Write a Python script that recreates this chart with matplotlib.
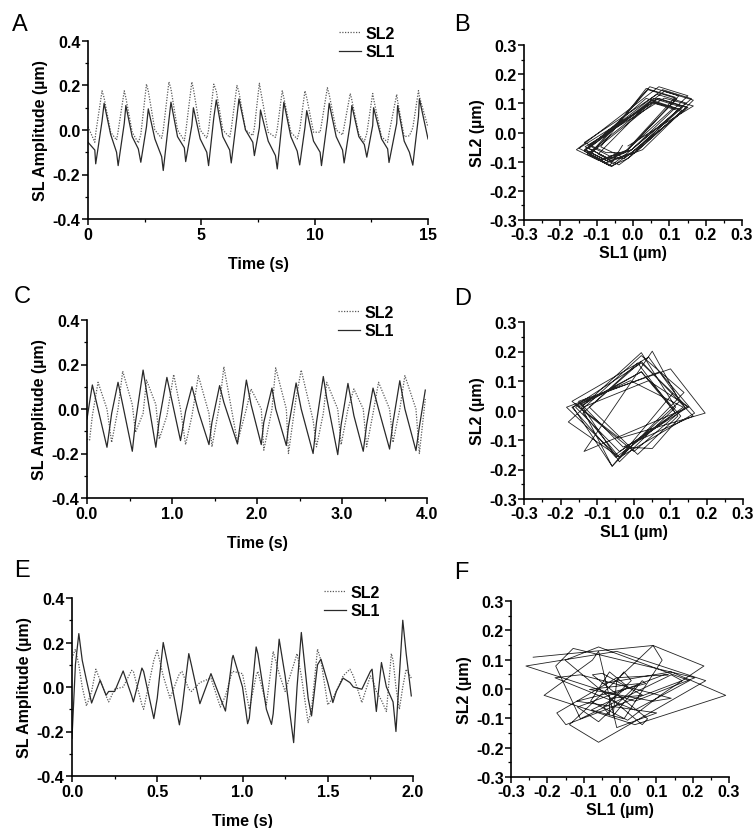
import numpy as np
import matplotlib.pyplot as plt
from matplotlib.ticker import MultipleLocator, FormatStrFormatter

plt.rcParams['font.family'] = ['Liberation Sans', 'DejaVu Sans']
plt.rcParams['font.weight'] = 'bold'
plt.rcParams['font.size'] = 11.5

# ---- panel A / B : 15 s recording ----
a_time = [0.00, 0.30, 0.34, 0.62, 0.71, 1.00, 1.26, 1.33, 1.60, 1.67, 1.95,
          2.22, 2.33, 2.58, 2.66, 2.95, 3.25, 3.32, 3.57, 3.66, 3.95,
          4.25, 4.31, 4.58, 4.65, 4.95, 5.24, 5.32, 5.55, 5.66, 5.95,
          6.25, 6.32, 6.57, 6.66, 6.95, 7.27, 7.34, 7.56, 7.61, 7.95,
          8.27, 8.35, 8.57, 8.64, 8.95, 9.23, 9.34, 9.57, 9.65, 9.95,
          10.24, 10.30, 10.56, 10.64, 10.95, 11.23, 11.30, 11.57, 11.64, 11.95,
          12.19, 12.30, 12.56, 12.60, 12.95, 13.22, 13.28, 13.62, 13.66, 13.95,
          14.18, 14.33, 14.58, 14.62, 15.00]
a_sl1 = [-0.055, -0.09, -0.152, 0.04, 0.12, -0.02, -0.10, -0.16, 0.03, 0.11, -0.03,
         -0.085, -0.145, 0.015, 0.095, -0.04, -0.12, -0.182, 0.045, 0.125, -0.03,
         -0.08, -0.142, 0.02, 0.10, -0.04, -0.10, -0.16, 0.055, 0.135, -0.03,
         -0.09, -0.148, 0.06, 0.14, 0.00, -0.055, -0.115, 0.01, 0.09, -0.05,
         -0.115, -0.175, 0.045, 0.125, -0.03, -0.095, -0.157, 0.01, 0.087, -0.05,
         -0.10, -0.16, 0.04, 0.12, -0.03, -0.09, -0.148, 0.03, 0.11, -0.03,
         -0.065, -0.122, 0.02, 0.10, -0.04, -0.085, -0.146, 0.03, 0.11, -0.05,
         -0.10, -0.158, 0.06, 0.14, -0.04]
a_sl2 = [0.015, -0.055, -0.015, 0.176, 0.145, -0.01, -0.045, -0.005, 0.176, 0.145, -0.01,
         -0.058, -0.02, 0.206, 0.175, 0.0, -0.037, 0.0, 0.216, 0.185, 0.0,
         -0.048, -0.01, 0.216, 0.185, 0.0, -0.037, 0.0, 0.206, 0.175, 0.0,
         -0.033, 0.005, 0.20, 0.17, 0.0, -0.025, 0.01, 0.21, 0.18, -0.01,
         -0.033, 0.005, 0.176, 0.145, -0.01, -0.04, 0.0, 0.176, 0.145, -0.01,
         -0.01, 0.025, 0.19, 0.16, 0.0, -0.022, 0.015, 0.164, 0.135, -0.02,
         -0.052, -0.015, 0.164, 0.14, -0.03, -0.055, -0.015, 0.16, 0.13, -0.03,
         -0.026, 0.01, 0.177, 0.15, 0.013]

# ---- panel C / D : 4 s recording ----
c_time = [0.00, 0.03, 0.063, 0.13, 0.235, 0.29, 0.365, 0.42, 0.533, 0.57,
          0.66, 0.70, 0.81, 0.85, 0.94, 1.02, 1.10, 1.16, 1.235, 1.31,
          1.435, 1.47, 1.56, 1.61, 1.77, 1.875, 1.93, 2.05, 2.08, 2.176,
          2.22, 2.345, 2.37, 2.46, 2.52, 2.66, 2.70, 2.78, 2.82, 2.95,
          2.99, 3.07, 3.14, 3.25, 3.29, 3.365, 3.43, 3.56, 3.60, 3.68,
          3.74, 3.87, 3.91, 3.98]
c_sl1 = [-0.045, 0.03, 0.108, 0.0, -0.172, -0.02, 0.12, 0.02, -0.19, -0.06,
         0.175, 0.08, -0.172, -0.05, 0.142, 0.0, -0.142, -0.01, 0.10, -0.01,
         -0.16, -0.06, 0.105, 0.03, -0.157, 0.13, 0.02, -0.16, -0.06, 0.094,
         0.0, -0.164, -0.08, 0.117, 0.0, -0.20, -0.06, 0.146, 0.05, -0.205,
         -0.07, 0.115, -0.03, -0.19, -0.07, 0.094, 0.0, -0.18, -0.06, 0.127,
         0.0, -0.187, -0.08, 0.085]
c_sl2 = [-0.135, -0.14, -0.03, 0.12, 0.0, -0.15, 0.0, 0.17, 0.02, -0.105,
         -0.02, 0.13, 0.02, -0.135, -0.03, 0.155, 0.0, -0.16, -0.03, 0.15,
         -0.02, -0.17, 0.02, 0.19, -0.15, 0.0, 0.09, 0.0, -0.185, 0.0,
         0.185, 0.0, -0.20, 0.05, 0.175, -0.05, -0.17, -0.02, 0.12, 0.0,
         -0.16, 0.0, 0.09, 0.0, -0.17, -0.02, 0.12, 0.0, -0.15, 0.0,
         0.15, 0.0, -0.20, 0.045]

# ---- panel E / F : 2 s recording ----
e_time = [0.00, 0.02, 0.04, 0.06, 0.085, 0.115, 0.14, 0.165, 0.20, 0.215,
          0.25, 0.30, 0.35, 0.36, 0.41, 0.42, 0.48, 0.50, 0.535, 0.575,
          0.63, 0.645, 0.685, 0.70, 0.75, 0.815, 0.87, 0.90, 0.94, 0.945,
          1.00, 1.03, 1.04, 1.08, 1.09, 1.14, 1.17, 1.18, 1.215, 1.25,
          1.30, 1.32, 1.345, 1.385, 1.405, 1.44, 1.46, 1.50, 1.53, 1.55,
          1.59, 1.63, 1.65, 1.70, 1.75, 1.76, 1.785, 1.815, 1.844, 1.873,
          1.883, 1.90, 1.92, 1.94, 1.96, 1.99]
e_sl1 = [-0.23, 0.10, 0.24, 0.12, 0.03, -0.072, -0.02, 0.03, -0.037, -0.02,
         -0.02, 0.072, -0.04, -0.067, 0.085, 0.07, -0.142, -0.05, 0.20, 0.05,
         -0.17, -0.10, 0.15, 0.10, -0.075, 0.06, -0.05, -0.108, 0.13, 0.142,
         0.00, -0.165, -0.14, 0.18, 0.15, -0.10, -0.168, -0.12, 0.215, 0.05,
         -0.25, 0.00, 0.245, -0.05, -0.13, 0.10, 0.125, 0.02, -0.07, -0.02,
         0.04, 0.02, 0.00, -0.01, 0.07, 0.08, -0.11, 0.11, 0.00, -0.05,
         -0.067, -0.20, 0.05, 0.30, 0.15, -0.04]
e_sl2 = [0.13, 0.17, 0.10, 0.00, -0.085, -0.02, 0.08, 0.03, -0.04, -0.067,
         -0.01, 0.00, 0.075, 0.07, -0.08, -0.10, 0.12, 0.165, 0.05, -0.05,
         0.06, 0.07, -0.01, -0.02, 0.02, 0.04, -0.09, -0.04, 0.07, 0.07,
         0.06, -0.06, -0.10, 0.05, 0.07, -0.08, 0.10, 0.16, 0.06, -0.02,
         0.10, 0.15, 0.05, -0.16, -0.10, 0.17, 0.12, -0.08, -0.05, -0.02,
         0.05, 0.08, 0.05, -0.07, 0.05, 0.04, -0.02, -0.06, -0.11, 0.15,
         0.12, 0.00, -0.10, 0.00, 0.08, 0.04]

W, H = 755, 829
FS = 11.5
fig = plt.figure(figsize=(W / 100, H / 100), dpi=100)


def box(l, r, t, b):
    return [l / W, (H - b) / H, (r - l) / W, (b - t) / H]


def style(ax):
    for s in ['top', 'right']:
        ax.spines[s].set_visible(False)
    for s in ['left', 'bottom']:
        ax.spines[s].set_linewidth(1.2)
    ax.tick_params(which='major', direction='out', length=4, width=1.1,
                   labelsize=FS, pad=1.5)
    ax.tick_params(which='minor', direction='out', length=2, width=0.9)
    for lab in ax.get_xticklabels() + ax.get_yticklabels():
        lab.set_fontweight('bold')


def time_panel(rect, t, s1, s2, tmax, tmajor, tfmt, leg_xy):
    ax = fig.add_axes(box(*rect))
    ax.plot(t, s2, color='#5a5a5a', lw=0.9, ls=(0, (1, 1.2)), label='SL2')
    ax.plot(t, s1, color='#2a2a2a', lw=0.9, label='SL1')
    ax.set_xlim(0, tmax)
    ax.set_ylim(-0.4, 0.4)
    ax.xaxis.set_major_locator(MultipleLocator(tmajor))
    ax.xaxis.set_minor_locator(MultipleLocator(tmajor / 2))
    ax.xaxis.set_major_formatter(FormatStrFormatter(tfmt))
    ax.yaxis.set_major_locator(MultipleLocator(0.2))
    ax.yaxis.set_minor_locator(MultipleLocator(0.1))
    ax.yaxis.set_major_formatter(FormatStrFormatter('%.1f'))
    ax.set_xlabel('Time (s)', fontweight='bold', fontsize=FS, labelpad=10)
    ax.set_ylabel('SL Amplitude (\u00b5m)', fontweight='bold', fontsize=FS, labelpad=3)
    style(ax)
    ax.legend(loc='upper left', bbox_to_anchor=(leg_xy[0] / W, 1 - leg_xy[1] / H),
              bbox_transform=fig.transFigure, frameon=False, borderpad=0,
              handlelength=1.35, handletextpad=0.3, labelspacing=0.2,
              prop={'weight': 'bold', 'size': FS})
    return ax


def phase_panel(rect, s1, s2):
    ax = fig.add_axes(box(*rect))
    x = np.array(s1) - np.mean(s1)
    y = np.array(s2) - np.mean(s2)
    ax.plot(x, y, color='#222222', lw=0.6)
    ax.set_xlim(-0.3, 0.3)
    ax.set_ylim(-0.3, 0.3)
    ticks = [-0.3, -0.2, -0.1, 0.0, 0.1, 0.2, 0.3]
    ax.set_xticks(ticks)
    ax.set_yticks(ticks)
    ax.xaxis.set_minor_locator(MultipleLocator(0.05))
    ax.yaxis.set_minor_locator(MultipleLocator(0.05))
    ax.xaxis.set_major_formatter(FormatStrFormatter('%.1f'))
    ax.yaxis.set_major_formatter(FormatStrFormatter('%.1f'))
    ax.set_xlabel('SL1 (\u00b5m)', fontweight='bold', fontsize=FS, labelpad=2)
    ax.set_ylabel('SL2 (\u00b5m)', fontweight='bold', fontsize=FS, labelpad=3)
    style(ax)
    ax.tick_params(which='major', pad=1)
    return ax


time_panel((88, 428, 42, 220), a_time, a_sl1, a_sl2, 15, 5, '%d', (331, 19))
phase_panel((524, 742, 46, 221), a_sl1, a_sl2)
time_panel((87, 427, 321, 499), c_time, c_sl1, c_sl2, 4, 1, '%.1f', (330, 298))
phase_panel((524, 743, 323, 500), c_sl1, c_sl2)
time_panel((72, 413, 599, 777), e_time, e_sl1, e_sl2, 2, 0.5, '%.1f', (316, 578))
phase_panel((511, 729, 602, 778), e_sl1, e_sl2)

letters = [('A', 12, 14), ('B', 454, 14), ('C', 14, 286), ('D', 454, 288),
           ('E', 14, 560), ('F', 454, 562)]
for txt, x, y in letters:
    fig.text(x / W, 1 - y / H, txt, fontsize=17, fontweight='normal',
             ha='left', va='top')

fig.savefig('out.png', dpi=100)
